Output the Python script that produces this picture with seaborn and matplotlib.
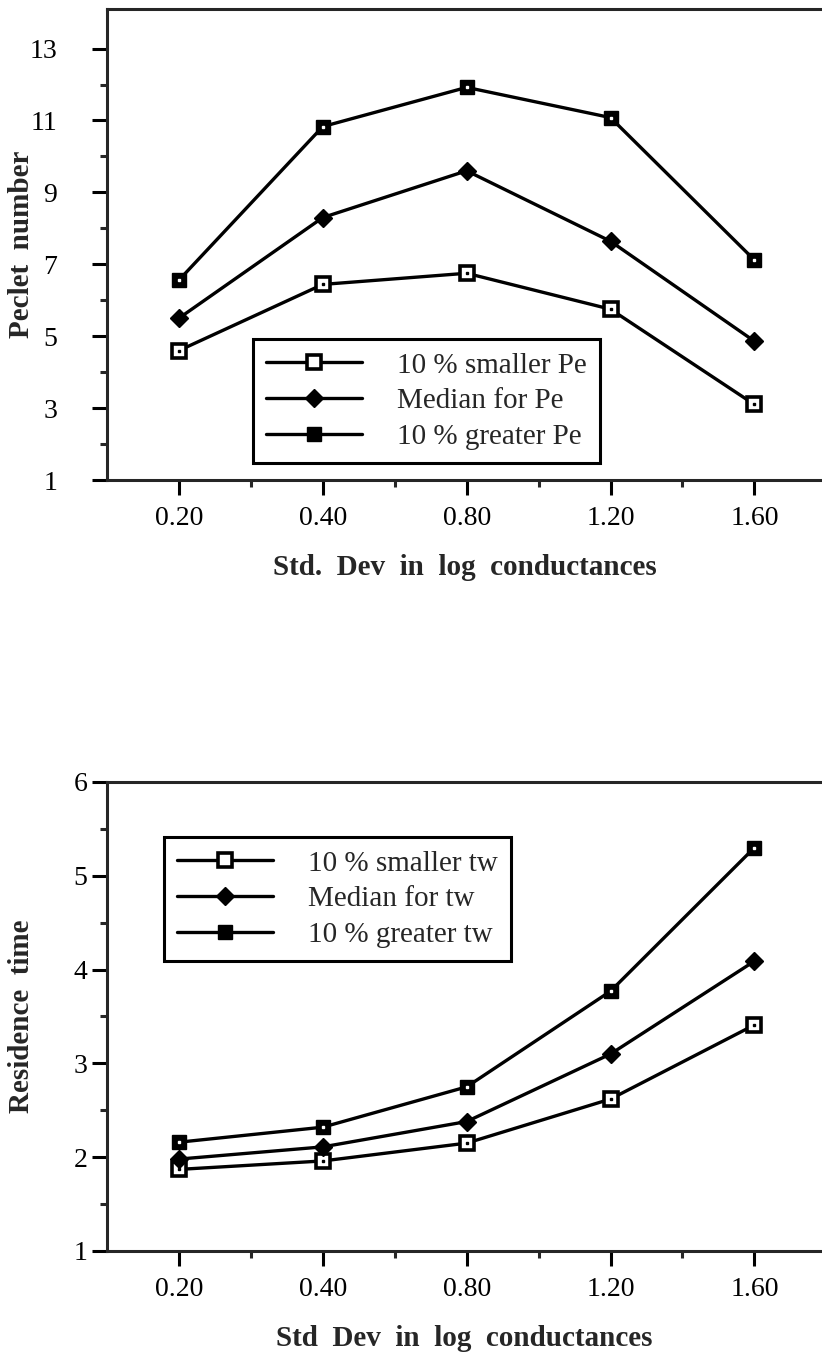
import numpy as np
import pandas as pd
import matplotlib
matplotlib.use("Agg")
import matplotlib.pyplot as plt
from matplotlib.ticker import FixedLocator
import seaborn as sns

# ---------------- data ----------------
categories = ["0.20", "0.40", "0.80", "1.20", "1.60"]

pe_smaller = [4.6, 6.44, 6.75, 5.75, 3.1]
pe_median = [5.5, 8.3, 9.6, 7.64, 4.86]
pe_greater = [6.56, 10.83, 11.92, 11.08, 7.12]
pe_labels = ["10 % smaller Pe", "Median for Pe", "10 % greater Pe"]

tw_smaller = [1.87, 1.96, 2.15, 2.62, 3.41]
tw_median = [1.98, 2.11, 2.38, 3.10, 4.09]
tw_greater = [2.16, 2.32, 2.75, 3.77, 5.30]
tw_labels = ["10 % smaller tw", "Median for tw", "10 % greater tw"]

pe_yticks = [1, 3, 5, 7, 9, 11, 13]
tw_yticks = [1, 2, 3, 4, 5, 6]

# ---------------- style ----------------
sns.set_theme(style="ticks")
plt.rcParams["font.family"] = ["Liberation Serif", "DejaVu Serif"]
plt.rcParams["axes.linewidth"] = 2.2

W, H = 822, 1360
fig = plt.figure(figsize=(W / 100, H / 100), dpi=100)

LW = 2.4
styles = [
    dict(marker="s", markersize=10, markerfacecolor="white", markeredgecolor="black", markeredgewidth=2.6),
    dict(marker="D", markersize=9, markerfacecolor="black", markeredgecolor="black", markeredgewidth=1),
    dict(marker="s", markersize=10.5, markerfacecolor="black", markeredgecolor="black", markeredgewidth=1),
]
centers = [
    dict(marker="s", markersize=2.0, color="black"),
    None,
    dict(marker="s", markersize=1.6, color="white"),
]


def panel(rect, series, labels, yticks, ylim, ylabel, xlabel, legend_anchor, ypad):
    ax = fig.add_axes(rect)
    x = np.arange(len(categories))
    handles = []
    for vals, lab, st, cen in zip(series, labels, styles, centers):
        df = pd.DataFrame({"x": x, "y": vals})
        n_before = len(ax.lines)
        sns.lineplot(data=df, x="x", y="y", ax=ax, color="black", linewidth=LW,
                     legend=False, **st)
        for ln in ax.lines[n_before:]:
            ln.set_marker(st["marker"])
            ln.set_markersize(st["markersize"])
            ln.set_markerfacecolor(st["markerfacecolor"])
            ln.set_markeredgecolor(st["markeredgecolor"])
            ln.set_markeredgewidth(st["markeredgewidth"])
        if cen is not None:
            ax.plot(x, vals, linestyle="none", zorder=5, **cen)
        h, = ax.plot([], [], color="black", linewidth=LW, label=lab, **st)
        handles.append(h)

    ax.set_xlim(-0.5, 4.47)
    ax.set_ylim(*ylim)
    ax.set_xticks(x)
    ax.set_xticklabels(categories)
    ax.xaxis.set_minor_locator(FixedLocator([0.5, 1.5, 2.5, 3.5]))
    ax.set_yticks(yticks)
    ax.set_yticklabels([str(t) for t in yticks])
    minors = [(a + b) / 2 for a, b in zip(yticks[:-1], yticks[1:])]
    ax.yaxis.set_minor_locator(FixedLocator(minors))
    ax.tick_params(axis="both", which="major", direction="out", length=11, width=2.2,
                   labelsize=20, colors="black")
    ax.tick_params(axis="x", which="major", pad=8)
    ax.tick_params(axis="y", which="major", pad=ypad)
    ax.tick_params(axis="both", which="minor", direction="out", length=5, width=2.2)
    ax.spines["right"].set_visible(False)
    ax.spines["top"].set_visible(True)
    ax.set_ylabel(ylabel, fontsize=21, fontweight="bold")
    ax.yaxis.set_label_coords(-72 / 715, 0.5)
    ax.set_xlabel(xlabel, fontsize=21, fontweight="bold", labelpad=16)
    ax.set_facecolor("white")

    leg = ax.legend(handles=handles, loc="upper left",
                    bbox_to_anchor=legend_anchor, bbox_transform=fig.transFigure,
                    fontsize=21, frameon=True, fancybox=False, framealpha=1,
                    edgecolor="black", handlelength=3.3, handletextpad=1.2,
                    labelspacing=0.32, borderpad=0.45, borderaxespad=0)
    leg.get_frame().set_linewidth(2.2)
    return ax


left = 107 / W
panel([left, 1 - 480 / H, 1 - left, (480 - 9) / H],
      [pe_smaller, pe_median, pe_greater], pe_labels, pe_yticks, (1, 14.1),
      "Peclet  number", "Std.  Dev  in  log  conductances",
      (253 / W, 1 - 339 / H), 25)

panel([left, 1 - 1251 / H, 1 - left, (1251 - 782) / H],
      [tw_smaller, tw_median, tw_greater], tw_labels, tw_yticks, (1, 6),
      "Residence  time", "Std  Dev  in  log  conductances",
      (164 / W, 1 - 837 / H), 3)

fig.savefig("out.png", dpi=100, facecolor="white")
